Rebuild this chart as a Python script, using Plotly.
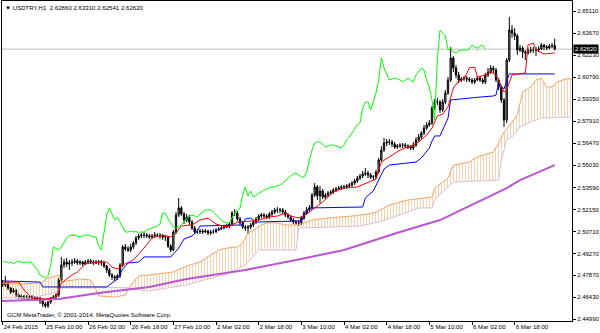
import plotly.graph_objects as go

# ---------------- data (USDTRY H1, bar index 0 = first visible bar) ----------------
tick_bars = [0, 16, 32, 48, 64, 80, 96, 112, 128, 144, 160, 176, 192]
tick_text = ["24 Feb 2015", "25 Feb 10:00", "26 Feb 02:00", "26 Feb 18:00", "27 Feb 10:00",
             "2 Mar 02:00", "2 Mar 18:00", "3 Mar 10:00", "4 Mar 02:00", "4 Mar 18:00",
             "5 Mar 10:00", "6 Mar 02:00", "6 Mar 18:00"]
price_ticks = ["2.65110", "2.63670", "2.62230", "2.60790", "2.59350", "2.57910", "2.56470",
               "2.55030", "2.53590", "2.52150", "2.50710", "2.49270", "2.47870", "2.46430", "2.44990"]

bar_opens = [
    2.4735, 2.4722, 2.4735, 2.4702, 2.4676, 2.4689, 2.4656, 2.4643, 2.4650, 2.4637,
    2.4643, 2.4637, 2.4643, 2.4630, 2.4637, 2.4617, 2.4598, 2.4585, 2.4611, 2.4637,
    2.4643, 2.4656, 2.4754, 2.4852, 2.4872, 2.4859, 2.4865, 2.4872, 2.4878, 2.4865,
    2.4872, 2.4859, 2.4872, 2.4878, 2.4872, 2.4865, 2.4872, 2.4872, 2.4865, 2.4846,
    2.4820, 2.4787, 2.4774, 2.4767, 2.4781, 2.4852, 2.4970, 2.4957, 2.4950, 2.4970,
    2.4996, 2.5029, 2.5042, 2.5048, 2.5048, 2.5042, 2.5035, 2.5042, 2.5048, 2.5048,
    2.5042, 2.5035, 2.5035, 2.4976, 2.4950, 2.5068, 2.5179, 2.5225, 2.5185, 2.5146,
    2.5166, 2.5133, 2.5094, 2.5068, 2.5068, 2.5074, 2.5068, 2.5074, 2.5061, 2.5068,
    2.5068, 2.5081, 2.5087, 2.5094, 2.5100, 2.5107, 2.5120, 2.5192, 2.5192, 2.5153,
    2.5127, 2.5100, 2.5094, 2.5100, 2.5114, 2.5133, 2.5153, 2.5172, 2.5179, 2.5172,
    2.5166, 2.5185, 2.5198, 2.5212, 2.5212, 2.5212, 2.5198, 2.5179, 2.5166, 2.5146,
    2.5133, 2.5127, 2.5127, 2.5159, 2.5192, 2.5212, 2.5225, 2.5309, 2.5362, 2.5303,
    2.5336, 2.5296, 2.5309, 2.5322, 2.5329, 2.5342, 2.5349, 2.5355, 2.5362, 2.5362,
    2.5368, 2.5375, 2.5388, 2.5401, 2.5420, 2.5434, 2.5447, 2.5453, 2.5440, 2.5427,
    2.5427, 2.5460, 2.5538, 2.5603, 2.5649, 2.5656, 2.5656, 2.5642, 2.5623, 2.5629,
    2.5636, 2.5636, 2.5629, 2.5623, 2.5616, 2.5636, 2.5669, 2.5688, 2.5714, 2.5747,
    2.5767, 2.5780, 2.5878, 2.5917, 2.5917, 2.5865, 2.5917, 2.5976, 2.6060, 2.6204,
    2.6139, 2.6093, 2.6060, 2.6067, 2.6073, 2.6067, 2.6060, 2.6047, 2.6060, 2.6073,
    2.6060, 2.6047, 2.6093, 2.6113, 2.6139, 2.6126, 2.6060, 2.6015, 2.5930, 2.5799,
    2.6191, 2.6387, 2.6367, 2.6348, 2.6256, 2.6269, 2.6243, 2.6237, 2.6250, 2.6256,
    2.6256, 2.6256, 2.6263, 2.6289, 2.6276, 2.6269, 2.6282, 2.6286]
bar_highs = [
    2.4754, 2.4781, 2.4741, 2.4709, 2.4702, 2.4696, 2.4670, 2.4663, 2.4656, 2.4656,
    2.4650, 2.4656, 2.4650, 2.4650, 2.4643, 2.4624, 2.4611, 2.4617, 2.4643, 2.4656,
    2.4670, 2.4767, 2.4905, 2.4892, 2.4898, 2.4885, 2.4892, 2.4898, 2.4892, 2.4885,
    2.4878, 2.4885, 2.4892, 2.4892, 2.4885, 2.4885, 2.4885, 2.4885, 2.4878, 2.4852,
    2.4833, 2.4800, 2.4787, 2.4794, 2.4865, 2.4983, 2.4989, 2.4976, 2.4989, 2.5009,
    2.5042, 2.5055, 2.5061, 2.5068, 2.5061, 2.5055, 2.5055, 2.5068, 2.5061, 2.5061,
    2.5055, 2.5048, 2.5042, 2.4989, 2.5081, 2.5198, 2.5290, 2.5238, 2.5198, 2.5185,
    2.5179, 2.5146, 2.5107, 2.5087, 2.5087, 2.5087, 2.5087, 2.5081, 2.5081, 2.5087,
    2.5094, 2.5100, 2.5107, 2.5114, 2.5120, 2.5133, 2.5205, 2.5218, 2.5205, 2.5166,
    2.5140, 2.5114, 2.5114, 2.5127, 2.5146, 2.5166, 2.5185, 2.5192, 2.5192, 2.5185,
    2.5198, 2.5212, 2.5225, 2.5231, 2.5225, 2.5225, 2.5212, 2.5192, 2.5179, 2.5159,
    2.5146, 2.5146, 2.5172, 2.5205, 2.5231, 2.5244, 2.5322, 2.5388, 2.5375, 2.5368,
    2.5349, 2.5322, 2.5336, 2.5342, 2.5355, 2.5362, 2.5368, 2.5375, 2.5375, 2.5381,
    2.5388, 2.5401, 2.5414, 2.5434, 2.5447, 2.5466, 2.5486, 2.5466, 2.5453, 2.5440,
    2.5473, 2.5551, 2.5629, 2.5682, 2.5675, 2.5675, 2.5669, 2.5656, 2.5642, 2.5649,
    2.5649, 2.5649, 2.5642, 2.5636, 2.5656, 2.5688, 2.5708, 2.5727, 2.5767, 2.5786,
    2.5799, 2.5891, 2.5936, 2.5943, 2.5930, 2.5936, 2.5995, 2.6080, 2.6276, 2.6217,
    2.6158, 2.6113, 2.6080, 2.6087, 2.6087, 2.6080, 2.6073, 2.6073, 2.6087, 2.6087,
    2.6073, 2.6106, 2.6139, 2.6158, 2.6152, 2.6139, 2.6073, 2.6028, 2.5943, 2.6204,
    2.6472, 2.6420, 2.6400, 2.6361, 2.6289, 2.6282, 2.6256, 2.6269, 2.6276, 2.6276,
    2.6276, 2.6282, 2.6302, 2.6295, 2.6289, 2.6295, 2.6302, 2.6331]
bar_lows = [
    2.4709, 2.4709, 2.4689, 2.4663, 2.4670, 2.4643, 2.4630, 2.4630, 2.4624, 2.4630,
    2.4617, 2.4624, 2.4617, 2.4617, 2.4598, 2.4578, 2.4572, 2.4572, 2.4598, 2.4624,
    2.4630, 2.4643, 2.4741, 2.4833, 2.4839, 2.4820, 2.4846, 2.4859, 2.4852, 2.4852,
    2.4846, 2.4852, 2.4859, 2.4859, 2.4852, 2.4859, 2.4852, 2.4846, 2.4833, 2.4800,
    2.4774, 2.4754, 2.4748, 2.4754, 2.4767, 2.4839, 2.4944, 2.4937, 2.4937, 2.4957,
    2.4983, 2.5016, 2.5029, 2.5029, 2.5029, 2.5022, 2.5022, 2.5029, 2.5035, 2.5022,
    2.5016, 2.5009, 2.4963, 2.4937, 2.4944, 2.5055, 2.5166, 2.5172, 2.5120, 2.5133,
    2.5114, 2.5081, 2.5055, 2.5055, 2.5055, 2.5055, 2.5061, 2.5048, 2.5048, 2.5055,
    2.5061, 2.5074, 2.5081, 2.5087, 2.5094, 2.5094, 2.5107, 2.5172, 2.5140, 2.5114,
    2.5087, 2.5074, 2.5055, 2.5087, 2.5100, 2.5120, 2.5140, 2.5159, 2.5159, 2.5153,
    2.5153, 2.5172, 2.5185, 2.5192, 2.5192, 2.5185, 2.5166, 2.5153, 2.5133, 2.5120,
    2.5114, 2.5107, 2.5114, 2.5146, 2.5179, 2.5198, 2.5212, 2.5296, 2.5277, 2.5257,
    2.5283, 2.5283, 2.5296, 2.5309, 2.5316, 2.5329, 2.5342, 2.5342, 2.5349, 2.5349,
    2.5355, 2.5362, 2.5375, 2.5388, 2.5407, 2.5420, 2.5434, 2.5420, 2.5414, 2.5407,
    2.5414, 2.5447, 2.5525, 2.5590, 2.5629, 2.5636, 2.5623, 2.5610, 2.5610, 2.5616,
    2.5616, 2.5616, 2.5610, 2.5603, 2.5603, 2.5623, 2.5656, 2.5675, 2.5701, 2.5734,
    2.5754, 2.5767, 2.5865, 2.5897, 2.5845, 2.5851, 2.5904, 2.5962, 2.6047, 2.6113,
    2.6073, 2.6041, 2.6047, 2.6054, 2.6047, 2.6047, 2.6034, 2.6034, 2.6054, 2.6047,
    2.6034, 2.6034, 2.6080, 2.6100, 2.6106, 2.6047, 2.5995, 2.5910, 2.5754, 2.5780,
    2.6178, 2.6335, 2.6322, 2.6224, 2.6243, 2.6204, 2.6191, 2.6224, 2.6237, 2.6237,
    2.6217, 2.6243, 2.6256, 2.6256, 2.6256, 2.6263, 2.6269, 2.62541]
bar_closes = [
    2.4722, 2.4735, 2.4702, 2.4676, 2.4689, 2.4656, 2.4643, 2.4650, 2.4637, 2.4643,
    2.4637, 2.4643, 2.4630, 2.4637, 2.4617, 2.4598, 2.4585, 2.4611, 2.4637, 2.4643,
    2.4656, 2.4754, 2.4852, 2.4872, 2.4859, 2.4865, 2.4872, 2.4878, 2.4865, 2.4872,
    2.4859, 2.4872, 2.4878, 2.4872, 2.4865, 2.4872, 2.4872, 2.4865, 2.4846, 2.4820,
    2.4787, 2.4774, 2.4767, 2.4781, 2.4852, 2.4970, 2.4957, 2.4950, 2.4970, 2.4996,
    2.5029, 2.5042, 2.5048, 2.5048, 2.5042, 2.5035, 2.5042, 2.5048, 2.5048, 2.5042,
    2.5035, 2.5035, 2.4976, 2.4950, 2.5068, 2.5179, 2.5225, 2.5185, 2.5146, 2.5166,
    2.5133, 2.5094, 2.5068, 2.5068, 2.5074, 2.5068, 2.5074, 2.5061, 2.5068, 2.5068,
    2.5081, 2.5087, 2.5094, 2.5100, 2.5107, 2.5120, 2.5192, 2.5192, 2.5153, 2.5127,
    2.5100, 2.5094, 2.5100, 2.5114, 2.5133, 2.5153, 2.5172, 2.5179, 2.5172, 2.5166,
    2.5185, 2.5198, 2.5212, 2.5212, 2.5212, 2.5198, 2.5179, 2.5166, 2.5146, 2.5133,
    2.5127, 2.5127, 2.5159, 2.5192, 2.5212, 2.5225, 2.5309, 2.5362, 2.5303, 2.5336,
    2.5296, 2.5309, 2.5322, 2.5329, 2.5342, 2.5349, 2.5355, 2.5362, 2.5362, 2.5368,
    2.5375, 2.5388, 2.5401, 2.5420, 2.5434, 2.5447, 2.5453, 2.5440, 2.5427, 2.5427,
    2.5460, 2.5538, 2.5603, 2.5649, 2.5656, 2.5656, 2.5642, 2.5623, 2.5629, 2.5636,
    2.5636, 2.5629, 2.5623, 2.5616, 2.5636, 2.5669, 2.5688, 2.5714, 2.5747, 2.5767,
    2.5780, 2.5878, 2.5917, 2.5917, 2.5865, 2.5917, 2.5976, 2.6060, 2.6204, 2.6139,
    2.6093, 2.6060, 2.6067, 2.6073, 2.6067, 2.6060, 2.6047, 2.6060, 2.6073, 2.6060,
    2.6047, 2.6093, 2.6113, 2.6139, 2.6126, 2.6060, 2.6015, 2.5930, 2.5799, 2.6191,
    2.6387, 2.6367, 2.6348, 2.6256, 2.6269, 2.6243, 2.6237, 2.6250, 2.6256, 2.6256,
    2.6256, 2.6263, 2.6289, 2.6276, 2.6269, 2.6282, 2.6286, 2.6262]

# Ichimoku lines (bar index, price)
tenkan_bar = [0, 6, 8, 11, 16, 20, 21, 22, 26, 28, 31, 35, 39, 41, 43, 45, 49, 53, 56, 60,
              63, 65, 67, 71, 74, 77, 80, 84, 86, 88, 94, 96, 100, 103, 106, 108, 111, 114, 116, 120,
              124, 128, 133, 137, 140, 142, 145, 149, 152, 154, 156, 159, 161, 163, 165, 167, 169, 171, 173, 175,
              177, 178, 181, 183, 185, 186, 188, 189, 191, 196, 197, 199, 200, 203, 207]
tenkan_val = [2.4741, 2.4741, 2.4689, 2.4637, 2.4630, 2.4643, 2.4676, 2.4735, 2.4787, 2.4807,
              2.4859, 2.4872, 2.4872, 2.4839, 2.4826, 2.4852, 2.4885, 2.4963, 2.5029, 2.5048,
              2.5035, 2.5061, 2.5107, 2.5114, 2.5146, 2.5159, 2.5120, 2.5100, 2.5114, 2.5133,
              2.5140, 2.5146, 2.5166, 2.5172, 2.5192, 2.5172, 2.5159, 2.5185, 2.5212, 2.5264,
              2.5329, 2.5355, 2.5362, 2.5394, 2.5414, 2.5525, 2.5558, 2.5603, 2.5623, 2.5636,
              2.5656, 2.5701, 2.5747, 2.5825, 2.5838, 2.5884, 2.6008, 2.6054, 2.6067, 2.6139,
              2.6145, 2.6080, 2.6093, 2.6113, 2.6093, 2.6060, 2.5982, 2.5995, 2.6093, 2.6106,
              2.6289, 2.6302, 2.6256, 2.6230, 2.6237]
kijun_bar = [0, 14, 15, 39, 41, 43, 45, 47, 51, 53, 63, 66, 68, 71, 73, 74, 90, 91, 93, 95,
             112, 113, 115, 135, 136, 139, 141, 143, 145, 149, 155, 157, 160, 161, 162, 164, 167, 168, 171, 179,
             184, 185, 186, 188, 190, 207]
kijun_val = [2.4748, 2.4741, 2.4709, 2.4709, 2.4735, 2.4761, 2.4826, 2.4865, 2.4872, 2.4905,
             2.4905, 2.4963, 2.5022, 2.5042, 2.5074, 2.5107, 2.5114, 2.5153, 2.5159, 2.5133,
             2.5140, 2.5179, 2.5225, 2.5231, 2.5290, 2.5336, 2.5407, 2.5479, 2.5505, 2.5512,
             2.5525, 2.5551, 2.5616, 2.5662, 2.5695, 2.5695, 2.5812, 2.5930, 2.5936, 2.5949,
             2.5956, 2.5962, 2.6041, 2.6002, 2.6100, 2.6100]
span_a_bar = [-1, 6, 14, 17, 21, 22, 29, 33, 35, 36, 42, 46, 48, 51, 55, 64, 69, 74, 78, 81,
              84, 88, 90, 92, 94, 97, 99, 103, 106, 111, 116, 122, 131, 137, 140, 145, 152, 158, 161, 162,
              167, 169, 175, 178, 184, 186, 188, 190, 193, 195, 198, 200, 202, 204, 206, 208, 211, 214]
span_a_val = [2.4735, 2.4728, 2.4735, 2.4767, 2.4787, 2.4741, 2.4761, 2.4754, 2.4689, 2.4650,
              2.4643, 2.4656, 2.4722, 2.4781, 2.4787, 2.4807, 2.4846, 2.4872, 2.4918, 2.4950,
              2.4963, 2.4970, 2.4996, 2.5061, 2.5081, 2.5114, 2.5127, 2.5127, 2.5114, 2.5114,
              2.5146, 2.5159, 2.5172, 2.5185, 2.5198, 2.5244, 2.5277, 2.5290, 2.5296, 2.5355,
              2.5420, 2.5505, 2.5525, 2.5558, 2.5590, 2.5649, 2.5721, 2.5760, 2.5832, 2.5982,
              2.6015, 2.6060, 2.6073, 2.6015, 2.6015, 2.6047, 2.6067, 2.6067]
span_b_bar = [-1, 10, 18, 21, 22, 34, 36, 48, 51, 55, 69, 74, 83, 91, 96, 110, 111, 134, 141, 149,
              156, 161, 162, 169, 186, 187, 189, 191, 194, 198, 202, 214]
span_b_val = [2.4637, 2.4637, 2.4663, 2.4689, 2.4702, 2.4702, 2.4709, 2.4702, 2.4689, 2.4683,
              2.4722, 2.4748, 2.4787, 2.4852, 2.4950, 2.4950, 2.5094, 2.5107, 2.5133, 2.5179,
              2.5225, 2.5225, 2.5277, 2.5394, 2.5407, 2.5538, 2.5669, 2.5688, 2.5754, 2.5786,
              2.5812, 2.5819]
ma_bar = [-1, 14, 21, 36, 55, 69, 74, 91, 110, 128, 149, 164, 182, 189, 194, 207]
ma_val = [2.4617, 2.4624, 2.4630, 2.4670, 2.4709, 2.4761, 2.4774, 2.4820, 2.4885, 2.4950,
          2.5068, 2.5146, 2.5296, 2.5355, 2.5407, 2.5505]
chikou_shift = 26
thistle_from, thistle_to = 34, 48   # bars where span B is above span A

# ---------------- figure ----------------
bars = list(range(len(bar_closes)))
FONT = "Liberation Sans, Arial, sans-serif"
fig = go.Figure()

# Kumo (cloud) hatched fill
fig.add_trace(go.Scatter(
    x=span_a_bar + span_b_bar[::-1], y=span_a_val + span_b_val[::-1],
    mode="none", fill="toself", fillcolor="rgba(0,0,0,0)",
    fillpattern=dict(shape="|", fgcolor="#F4A460", bgcolor="rgba(255,255,255,0)", size=3, solidity=0.34),
    hoverinfo="skip"))
ta = [(b, v) for b, v in zip(span_a_bar, span_a_val) if thistle_from <= b <= thistle_to]
tb = [(b, v) for b, v in zip(span_b_bar, span_b_val) if thistle_from <= b <= thistle_to]
fig.add_trace(go.Scatter(
    x=[p[0] for p in ta] + [p[0] for p in tb[::-1]],
    y=[p[1] for p in ta] + [p[1] for p in tb[::-1]],
    mode="none", fill="toself", fillcolor="rgba(0,0,0,0)",
    fillpattern=dict(shape="|", fgcolor="#D8BFD8", bgcolor="white", size=3, solidity=0.34),
    hoverinfo="skip"))

# candles
fig.add_trace(go.Candlestick(
    x=bars, open=bar_opens, high=bar_highs, low=bar_lows, close=bar_closes,
    increasing=dict(line=dict(color="#000000", width=1), fillcolor="#9A9A9A"),
    decreasing=dict(line=dict(color="#000000", width=1), fillcolor="#000000"),
    whiskerwidth=0, hoverinfo="skip"))

# lines
fig.add_trace(go.Scatter(x=span_a_bar, y=span_a_val, mode="lines", line=dict(color="#F4A460", width=1)))
fig.add_trace(go.Scatter(x=span_b_bar, y=span_b_val, mode="lines", line=dict(color="#D8BFD8", width=1)))
fig.add_trace(go.Scatter(x=ma_bar, y=ma_val, mode="lines", line=dict(color="#BA55D3", width=2)))
fig.add_trace(go.Scatter(x=[b - chikou_shift for b in bars[chikou_shift:]], y=bar_closes[chikou_shift:],
                         mode="lines", line=dict(color="#00FF00", width=1)))
fig.add_trace(go.Scatter(x=kijun_bar, y=kijun_val, mode="lines", line=dict(color="#0000FF", width=1)))
fig.add_trace(go.Scatter(x=tenkan_bar, y=tenkan_val, mode="lines", line=dict(color="#FF0000", width=1)))

last = bar_closes[-1]
fig.add_shape(type="line", xref="paper", x0=0, x1=1, y0=last, y1=last,
              line=dict(color="#C0C0C0", width=1), layer="below")

fig.update_layout(
    width=600, height=333, margin=dict(l=2, r=28, t=1, b=12),
    paper_bgcolor="white", plot_bgcolor="white", showlegend=False,
    font=dict(family=FONT, size=6, color="black"),
)
fig.update_xaxes(
    range=[-0.26, 213.5], tickmode="array", tickvals=tick_bars, ticktext=tick_text,
    ticks="outside", ticklen=3, tickcolor="black", tickwidth=1, tickangle=0,
    ticklabelposition="outside right", tickfont=dict(size=6.1, family=FONT),
    showgrid=False, zeroline=False, showline=True, linecolor="black", linewidth=1, mirror=True,
    rangeslider_visible=False, automargin=False, fixedrange=True)
fig.update_yaxes(
    side="right", range=[2.44867, 2.65763], tickmode="array",
    tickvals=[float(t) for t in price_ticks], ticktext=price_ticks,
    ticks="outside", ticklen=3, tickcolor="black", tickwidth=1, tickfont=dict(size=6, family=FONT),
    showgrid=False, zeroline=False, showline=True, linecolor="black", linewidth=1, mirror=True,
    automargin=False, fixedrange=True)

nb = "\u00a0"
header = "\u25bc" + nb + "USDTRY,H1" + nb * 2 + nb.join(
    "{:.5f}".format(v) for v in (bar_opens[-1], bar_highs[-1], bar_lows[-1], bar_closes[-1]))
fig.add_annotation(xref="paper", yref="paper", x=0, y=1, xanchor="left", yanchor="top",
                   text=header, showarrow=False, xshift=1, yshift=-1,
                   font=dict(size=6.1, family=FONT, color="black"))
fig.add_annotation(xref="paper", yref="paper", x=0, y=0, xanchor="left", yanchor="bottom",
                   text="GCM MetaTrader, \u00a9 2001-2014, MetaQuotes Software Corp.", showarrow=False,
                   xshift=3, yshift=1, font=dict(size=6.1, family=FONT, color="black"))
fig.add_annotation(xref="paper", yref="y", x=1, y=last, xanchor="left", yanchor="middle",
                   text="{:.5f}".format(last), showarrow=False, xshift=1, bgcolor="black", borderpad=1,
                   font=dict(size=6, family=FONT, color="white"))

fig.write_html("out.html", config={"displayModeBar": False})
